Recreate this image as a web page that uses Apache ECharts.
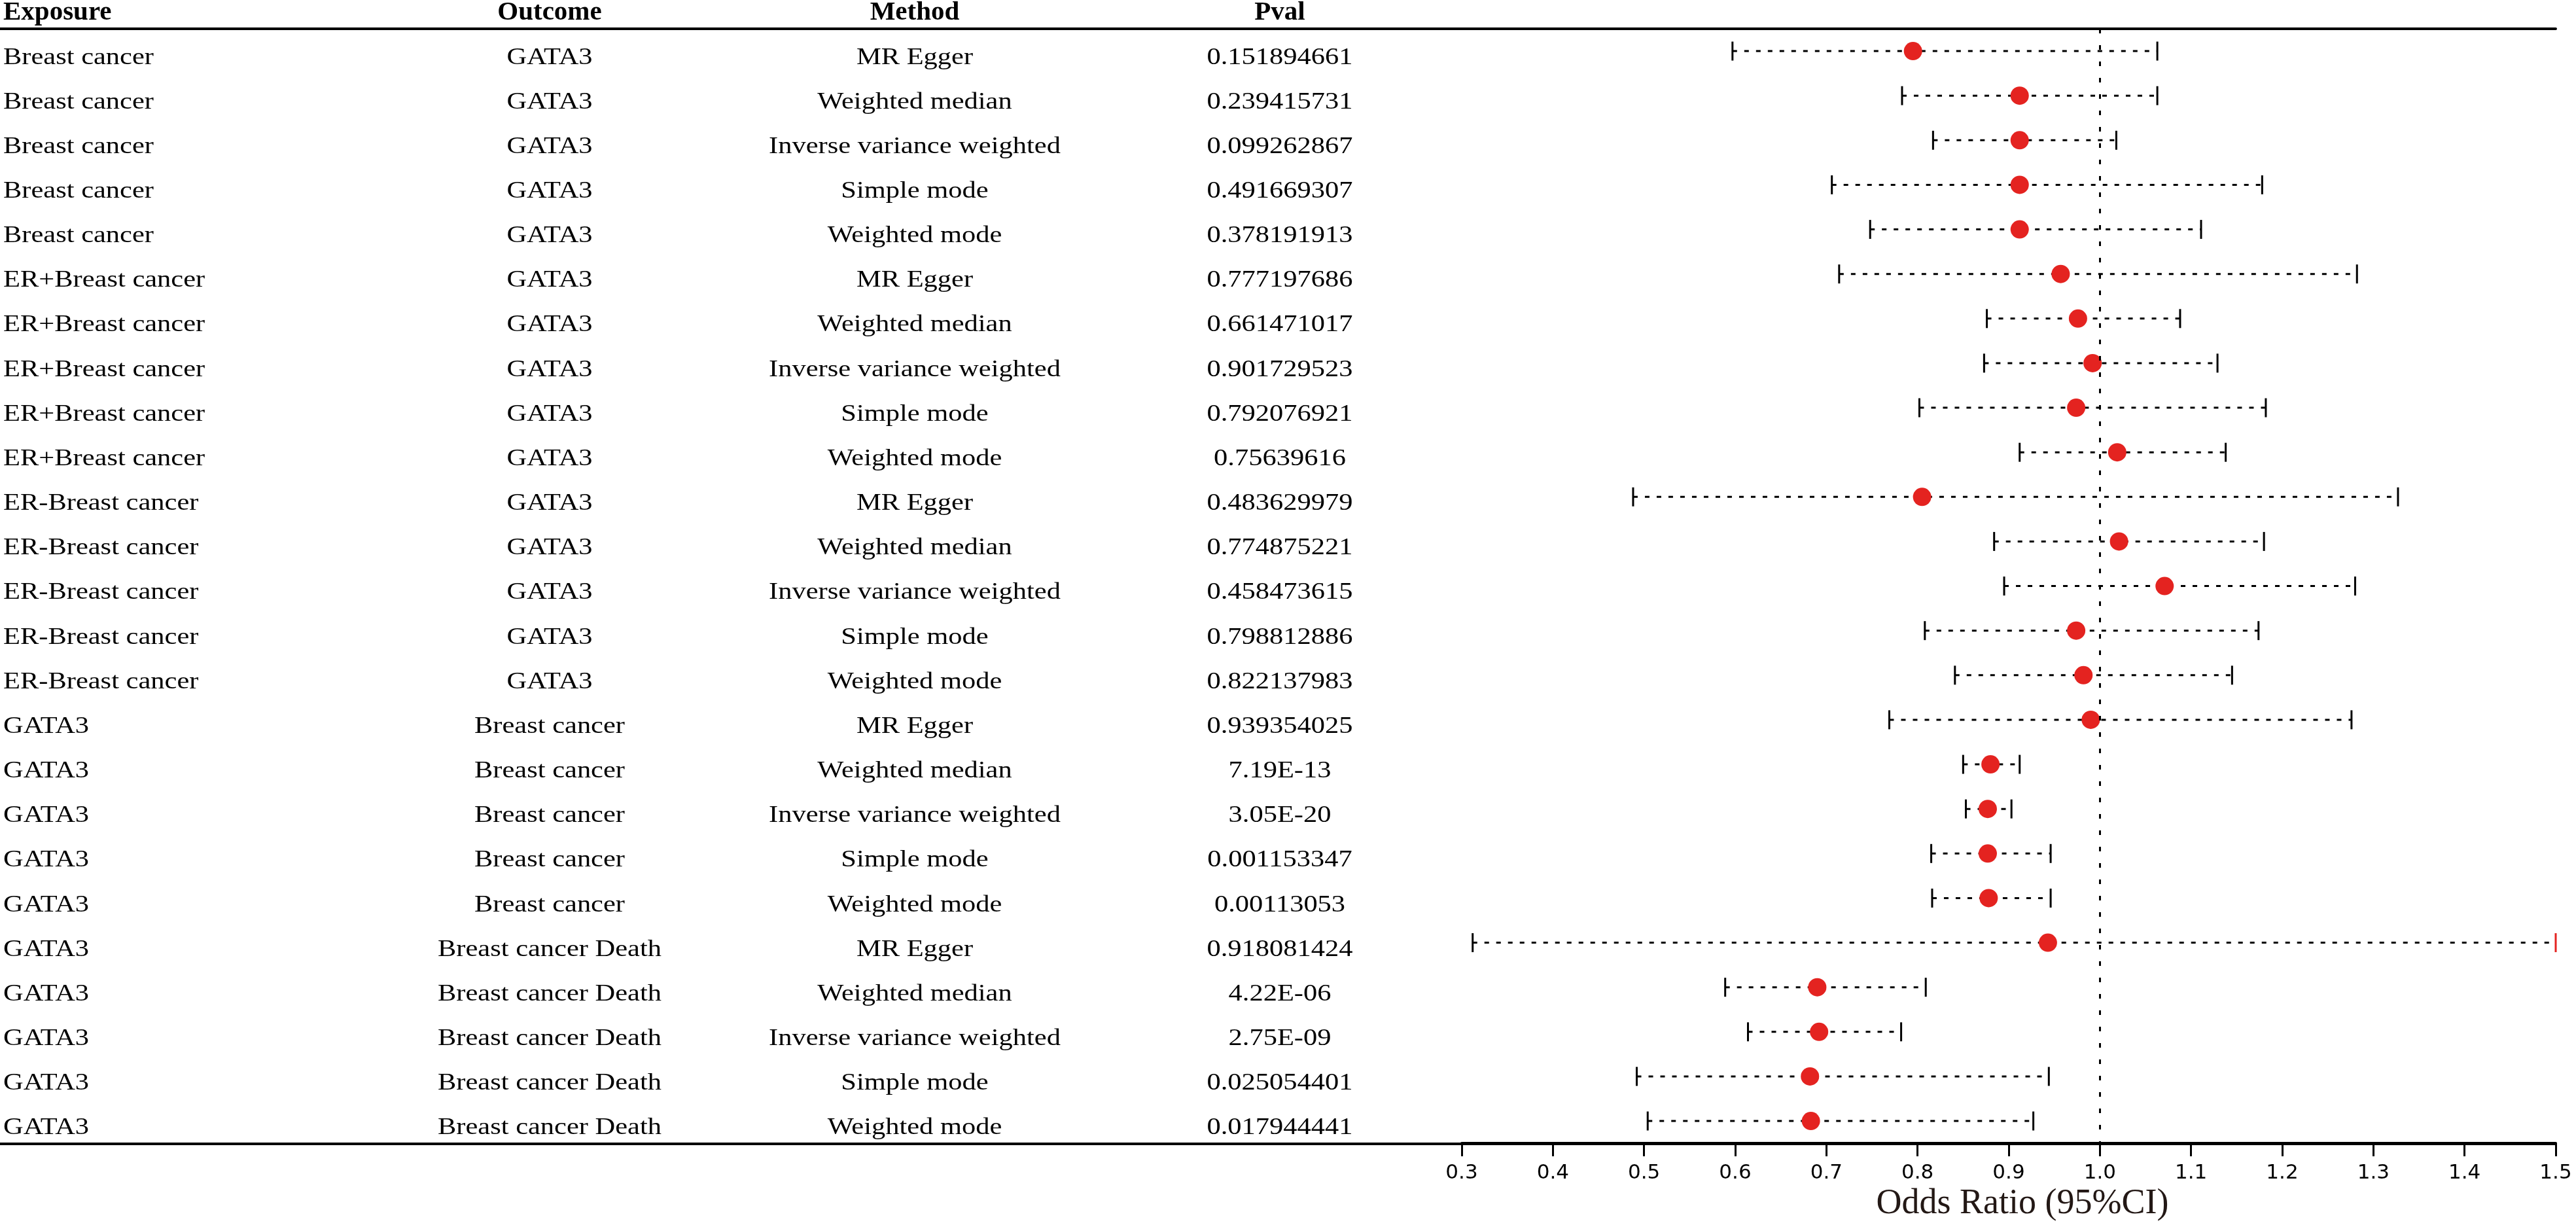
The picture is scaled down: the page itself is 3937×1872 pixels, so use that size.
<!DOCTYPE html>
<html>
<head>
<meta charset="utf-8">
<title>MR forest plot - GATA3 and breast cancer</title>
<script src="https://cdn.jsdelivr.net/npm/echarts@6/dist/echarts.min.js"></script>
<style>
  html, body { margin: 0; padding: 0; background: #fff; }
  #chart { width: 3937px; height: 1872px; }
</style>
</head>
<body>
<div id="chart"></div>
<script>
'use strict';

// table columns
const exposures = [
    'Breast cancer', 'Breast cancer', 'Breast cancer', 'Breast cancer', 'Breast cancer',
    'ER+Breast cancer', 'ER+Breast cancer', 'ER+Breast cancer', 'ER+Breast cancer', 'ER+Breast cancer',
    'ER-Breast cancer', 'ER-Breast cancer', 'ER-Breast cancer', 'ER-Breast cancer', 'ER-Breast cancer',
    'GATA3', 'GATA3', 'GATA3', 'GATA3', 'GATA3',
    'GATA3', 'GATA3', 'GATA3', 'GATA3', 'GATA3'
];
const outcomes = [
    'GATA3', 'GATA3', 'GATA3', 'GATA3', 'GATA3',
    'GATA3', 'GATA3', 'GATA3', 'GATA3', 'GATA3',
    'GATA3', 'GATA3', 'GATA3', 'GATA3', 'GATA3',
    'Breast cancer', 'Breast cancer', 'Breast cancer', 'Breast cancer', 'Breast cancer',
    'Breast cancer Death', 'Breast cancer Death', 'Breast cancer Death', 'Breast cancer Death', 'Breast cancer Death'
];
const methods = [
    'MR Egger', 'Weighted median', 'Inverse variance weighted', 'Simple mode', 'Weighted mode',
    'MR Egger', 'Weighted median', 'Inverse variance weighted', 'Simple mode', 'Weighted mode',
    'MR Egger', 'Weighted median', 'Inverse variance weighted', 'Simple mode', 'Weighted mode',
    'MR Egger', 'Weighted median', 'Inverse variance weighted', 'Simple mode', 'Weighted mode',
    'MR Egger', 'Weighted median', 'Inverse variance weighted', 'Simple mode', 'Weighted mode'
];
const pvals = [
    '0.151894661', '0.239415731', '0.099262867', '0.491669307', '0.378191913',
    '0.777197686', '0.661471017', '0.901729523', '0.792076921', '0.75639616',
    '0.483629979', '0.774875221', '0.458473615', '0.798812886', '0.822137983',
    '0.939354025', '7.19E-13', '3.05E-20', '0.001153347', '0.00113053',
    '0.918081424', '4.22E-06', '2.75E-09', '0.025054401', '0.017944441'
];

// odds ratio and 95% CI
const orValues = [
    0.795, 0.912, 0.912, 0.912, 0.912,
    0.957, 0.976, 0.992, 0.974, 1.019,
    0.805, 1.021, 1.071, 0.974, 0.982,
    0.990, 0.880, 0.877, 0.877, 0.878,
    0.943, 0.690, 0.692, 0.682, 0.683
];
const ciLower = [
    0.597, 0.783, 0.817, 0.706, 0.748,
    0.714, 0.876, 0.873, 0.802, 0.912,
    0.488, 0.884, 0.895, 0.808, 0.841,
    0.769, 0.850, 0.853, 0.815, 0.816,
    0.312, 0.589, 0.614, 0.492, 0.504
];
const ciUpper = [
    1.063, 1.063, 1.018, 1.178, 1.111,
    1.282, 1.088, 1.129, 1.182, 1.138,
    1.327, 1.180, 1.280, 1.174, 1.145,
    1.276, 0.912, 0.903, 0.946, 0.946,
    1.500, 0.809, 0.782, 0.944, 0.927
];

const headers = ['Exposure', 'Outcome', 'Method', 'Pval'];
const xMin = 0.3, xMax = 1.5, xStep = 0.1;
const refValue = 1.0;
const axisTitle = 'Odds Ratio (95%CI)';

// layout
const CHART_W = 3937;
const GRID_TOP = 44, GRID_BOTTOM = 124, GRID_RIGHT = 31;
const PLOT_LEFT = 2234;
const TABLE_RIGHT_X = CHART_W - GRID_RIGHT;
const colX = [5, 840, 1398, 1956];
const colAlign = ['left', 'center', 'center', 'center'];
const SERIF = '"Liberation Serif", "Times New Roman", serif';
const TEXT_SHIFT = 10;

const rowIds = exposures.map((_, i) => String(i));

const chart = echarts.init(document.getElementById('chart'));

const option = {
    backgroundColor: '#fff',
    animation: false,
    grid: [
        {left: 0, right: GRID_RIGHT, top: GRID_TOP, bottom: GRID_BOTTOM},
        {left: PLOT_LEFT, right: GRID_RIGHT, top: GRID_TOP, bottom: GRID_BOTTOM}
    ],
    xAxis: [
        {
            gridIndex: 0, type: 'value', min: 0, max: TABLE_RIGHT_X, position: 'bottom',
            axisLine: {show: true, lineStyle: {color: '#000', width: 4}},
            axisTick: {show: false}, axisLabel: {show: false}, splitLine: {show: false}
        },
        {
            gridIndex: 1, type: 'value', min: xMin, max: xMax, interval: xStep,
            axisLine: {show: true, lineStyle: {color: '#000', width: 4}},
            axisTick: {show: true, length: 20, lineStyle: {color: '#000', width: 3}},
            axisLabel: {
                margin: 30, color: '#000', fontSize: 31, fontFamily: '"DejaVu Sans", sans-serif',
                formatter: v => v.toFixed(1)
            },
            splitLine: {show: false},
            name: axisTitle, nameLocation: 'middle', nameGap: 58,
            nameTextStyle: {fontFamily: SERIF, fontSize: 54, color: '#231815', padding: [0, 0, 0, 42]}
        },
        {
            gridIndex: 0, type: 'value', min: 0, max: TABLE_RIGHT_X, position: 'top',
            axisLine: {show: true, onZero: false, lineStyle: {color: '#000', width: 4}},
            axisTick: {show: false}, axisLabel: {show: false}, splitLine: {show: false}
        }
    ],
    yAxis: [
        {gridIndex: 0, type: 'category', data: rowIds, inverse: true, show: false},
        {gridIndex: 1, type: 'category', data: rowIds, inverse: true, show: false}
    ],
    graphic: headers.map((h, k) => ({
        type: 'text', x: colX[k], y: 19,
        style: {text: h, font: 'bold 41px ' + SERIF, fill: '#000', align: colAlign[k], verticalAlign: 'middle'}
    })),
    series: [
        {
            // table body
            type: 'custom', xAxisIndex: 0, yAxisIndex: 0,
            data: rowIds.map((_, i) => [0, i]),
            encode: {x: 0, y: 1},
            renderItem: (params, api) => {
                const i = api.value(1);
                const y = api.coord([0, i])[1] + TEXT_SHIFT;
                const cells = [exposures[i], outcomes[i], methods[i], pvals[i]];
                return {
                    type: 'group',
                    children: cells.map((t, k) => ({
                        type: 'text',
                        x: api.coord([colX[k], i])[0], y: y,
                        scaleX: 1.18,
                        style: {text: t, font: '36px ' + SERIF, fill: '#000', align: colAlign[k], verticalAlign: 'middle'}
                    }))
                };
            },
            z: 2
        },
        {
            // confidence intervals
            type: 'custom', xAxisIndex: 1, yAxisIndex: 1,
            data: rowIds.map((_, i) => [ciLower[i], ciUpper[i], i]),
            encode: {x: [0, 1], y: 2},
            renderItem: (params, api) => {
                const lo = api.coord([api.value(0), api.value(2)]);
                const hi = api.coord([api.value(1), api.value(2)]);
                const cut = api.value(1) >= xMax;
                const capH = 14.5;
                return {
                    type: 'group',
                    children: [
                        {
                            type: 'line',
                            shape: {x1: lo[0], y1: lo[1], x2: hi[0], y2: hi[1]},
                            style: {stroke: '#000', lineWidth: 3, lineDash: [7, 11]}
                        },
                        {
                            type: 'line',
                            shape: {x1: lo[0], y1: lo[1] - capH, x2: lo[0], y2: lo[1] + capH},
                            style: {stroke: '#000', lineWidth: 3}
                        },
                        {
                            type: 'line',
                            shape: {x1: hi[0], y1: hi[1] - capH, x2: hi[0], y2: hi[1] + capH},
                            style: {stroke: cut ? '#E42320' : '#000', lineWidth: 3}
                        }
                    ]
                };
            },
            z: 3
        },
        {
            type: 'scatter', xAxisIndex: 1, yAxisIndex: 1,
            data: orValues.map((v, i) => [v, i]),
            symbol: 'circle', symbolSize: 28,
            itemStyle: {color: '#E42320', opacity: 1},
            markLine: {
                silent: true, symbol: 'none', animation: false,
                label: {show: false},
                lineStyle: {color: '#000', width: 3, type: [7, 18]},
                data: [{xAxis: refValue}]
            },
            z: 4
        }
    ]
};

chart.setOption(option);
</script>
</body>
</html>
